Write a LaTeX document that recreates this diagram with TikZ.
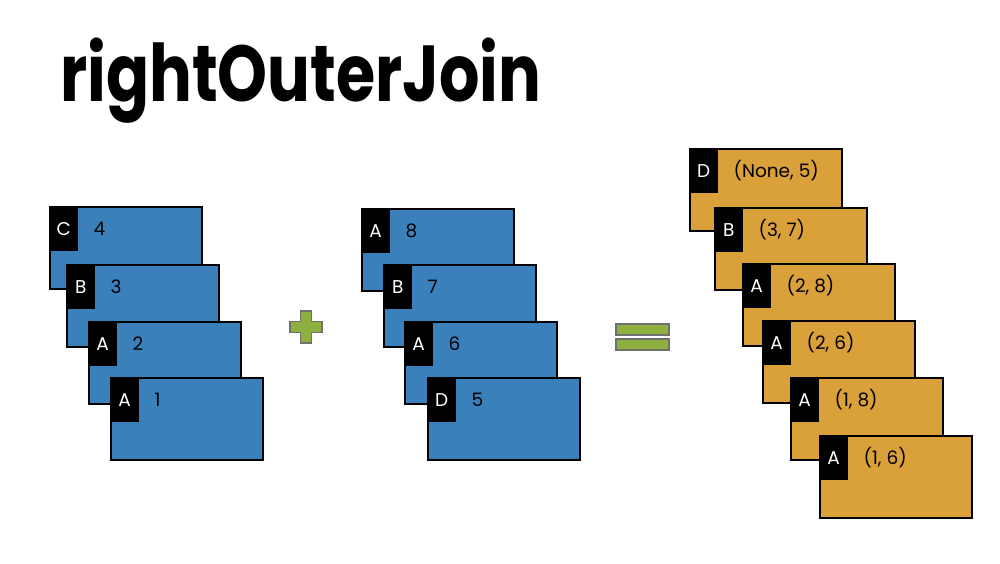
\documentclass[tikz,border=0pt]{standalone}
\usepackage{fontspec}
\setmainfont{Poppins}
\usetikzlibrary{positioning}
\definecolor{cardblue}{RGB}{58,128,186}
\definecolor{cardorange}{RGB}{218,160,58}
\definecolor{opgreen}{RGB}{141,176,62}
\definecolor{opgray}{RGB}{112,112,112}

\begin{document}
\begin{tikzpicture}[x=1pt, y=-1pt, font=\fontsize{18.5}{22}\selectfont,
    card/.style={draw, line width=1.8pt, anchor=north west, minimum width=152pt, minimum height=82pt, inner sep=0pt},
    keytab/.style={fill=black, anchor=north west, minimum width=29pt, minimum height=45pt, inner sep=0pt, text=white},
    val/.style={anchor=west, inner sep=0pt},
    op/.style={fill=opgreen, draw=opgray, line width=1.5pt}]
    \useasboundingbox (0,0) rectangle (1000,563);
    \node[anchor=base west, inner sep=0pt, font=\fontsize{63.5}{64}\selectfont\bfseries] (title) at (60,101) {\scalebox{1}[1.25]{rightOuterJoin}};

    % left rdd
    \foreach \n/\x/\y/\k/\v in {l1/49/206/C/4, l2/66/264/B/3, l3/88/321/A/2, l4/110/377/A/1} {
      \node[card, fill=cardblue] (\n) at (\x,\y) {};
      \node[keytab] (\n t) at (\n.north west) {\k};
      \node[val, right=15pt of \n t] (\n v) {\v};
    }
    % right rdd
    \foreach \n/\x/\y/\k/\v in {m1/361/208/A/8, m2/383/264/B/7, m3/404/321/A/6, m4/427/377/D/5} {
      \node[card, fill=cardblue] (\n) at (\x,\y) {};
      \node[keytab] (\n t) at (\n.north west) {\k};
      \node[val, right=15pt of \n t] (\n v) {\v};
    }
    % result
    \foreach \n/\x/\y/\k/\v in {{r1/689/148/D/(None, 5)}, {r2/714/207/B/(3, 7)}, {r3/742/263/A/(2, 8)},
        {r4/762/320/A/(2, 6)}, {r5/790/377/A/(1, 8)}, {r6/819/435/A/(1, 6)}} {
      \node[card, fill=cardorange] (\n) at (\x,\y) {};
      \node[keytab] (\n t) at (\n.north west) {\k};
      \node[val, right=15pt of \n t] (\n v) {\v};
    }

    % plus and equals
    \draw[op] (300.5,311) -- (311.5,311) -- (311.5,321.5) -- (322,321.5) -- (322,332.5) -- (311.5,332.5)
      -- (311.5,343) -- (300.5,343) -- (300.5,332.5) -- (290,332.5) -- (290,321.5) -- (300.5,321.5) -- cycle;
    \draw[op] (616,324) rectangle (669,335);
    \draw[op] (616,339) rectangle (669,350);
  \end{tikzpicture}
\end{document}
